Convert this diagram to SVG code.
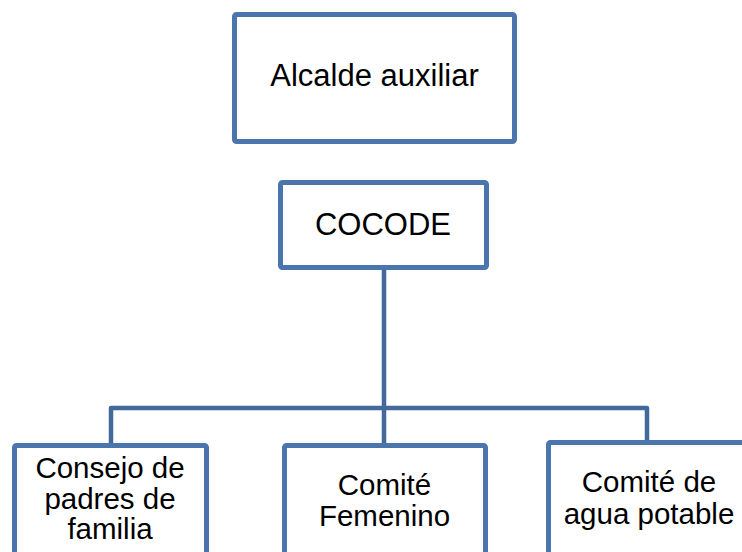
<svg xmlns="http://www.w3.org/2000/svg" width="742" height="552" viewBox="0 0 742 552">
  <style>
    .box { fill: #ffffff; stroke: #4A76AD; stroke-width: 5; stroke-linejoin: round; }
    .conn { fill: none; stroke: #41699C; stroke-width: 4.5; stroke-linejoin: round; }
    .lbl { font-family: "Liberation Sans", Arial, sans-serif; fill: #000000; text-anchor: middle; }
    .big { font-size: 31px; }
    .small { font-size: 29.5px; }
  </style>
  <rect width="742" height="552" fill="#ffffff"/>
  <g id="connectors">
    <path class="conn" d="M384 270 V408"/>
    <path class="conn" d="M111 443 V408 H647 V441"/>
    <path class="conn" d="M384 408 V443"/>
  </g>
  <g id="alcalde">
    <rect class="box" x="234.5" y="14.5" width="280" height="127" rx="2"/>
    <text class="lbl big" x="374.5" y="85.5">Alcalde auxiliar</text>
  </g>
  <g id="cocode">
    <rect class="box" x="280.5" y="182.5" width="206" height="85" rx="2"/>
    <text class="lbl big" x="383" y="234.5">COCODE</text>
  </g>
  <g id="consejo">
    <rect class="box" x="14.5" y="445.5" width="192" height="120" rx="2"/>
    <text class="lbl small" x="110" y="477.5">Consejo de</text>
    <text class="lbl small" x="110" y="508.5">padres de</text>
    <text class="lbl small" x="110" y="539">familia</text>
  </g>
  <g id="femenino">
    <rect class="box" x="284.5" y="445.5" width="201" height="120" rx="2"/>
    <text class="lbl small" x="384.5" y="495">Comité</text>
    <text class="lbl small" x="384.5" y="526">Femenino</text>
  </g>
  <g id="agua">
    <rect class="box" x="548.5" y="442.5" width="204" height="120" rx="2"/>
    <text class="lbl small" x="649" y="492">Comité de</text>
    <text class="lbl small" x="649" y="524">agua potable</text>
  </g>
</svg>
